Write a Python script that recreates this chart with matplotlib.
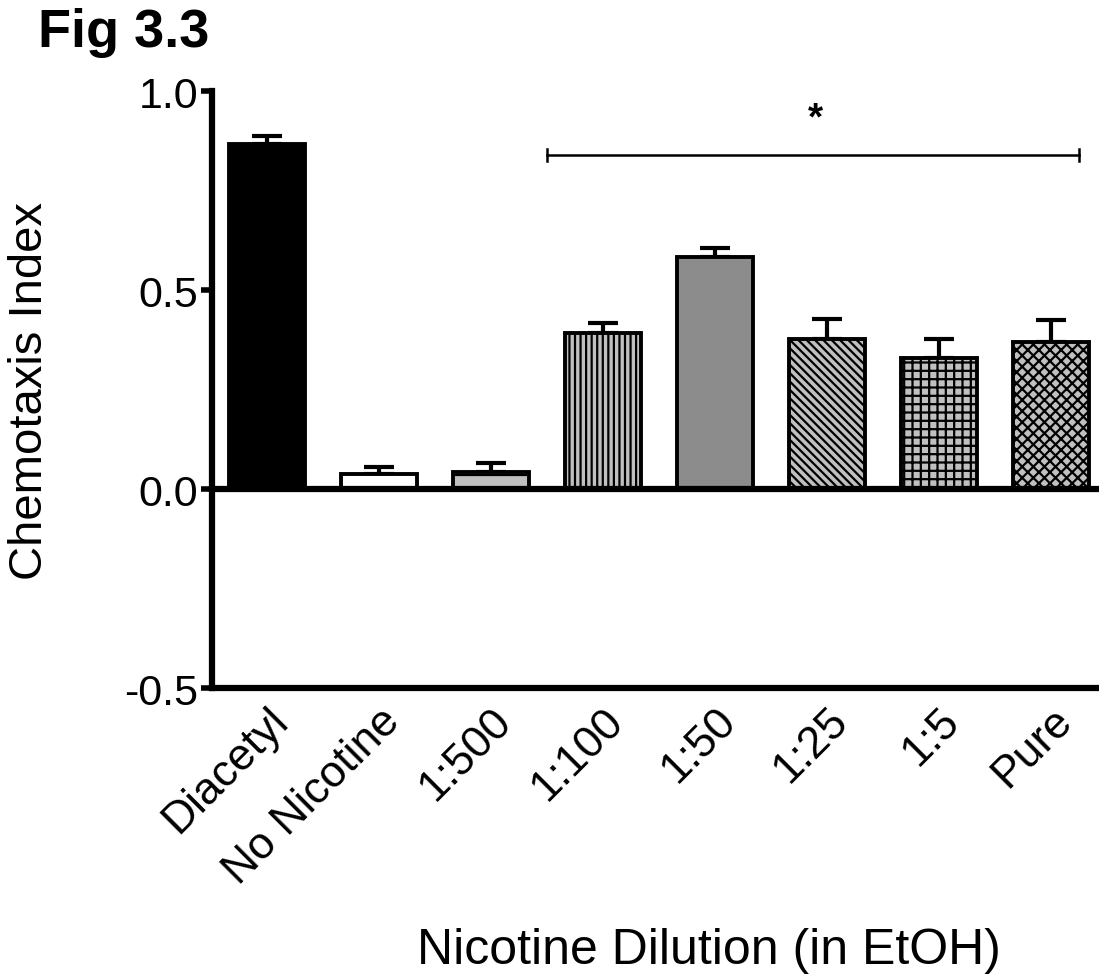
import matplotlib
matplotlib.use("Agg")
import matplotlib.pyplot as plt
import numpy as np

plt.rcParams['font.family'] = ['Liberation Sans', 'DejaVu Sans']
plt.rcParams['hatch.linewidth'] = 1.6

# data
labels = ['Diacetyl', 'No Nicotine', '1:500', '1:100', '1:50', '1:25', '1:5', 'Pure']
means = [0.867, 0.038, 0.043, 0.392, 0.583, 0.377, 0.329, 0.369]
sems = [0.020, 0.017, 0.022, 0.025, 0.022, 0.050, 0.048, 0.056]
colors = ['black', 'white', '#c0c0c0', '#c0c0c0', '#8c8c8c', '#c0c0c0', '#c0c0c0', '#c0c0c0']
hatches = ['', '', '-', '|||', '', '\\\\\\\\', '++', 'xxx']

fig = plt.figure(figsize=(10.99, 9.79), dpi=100)
ax = fig.add_axes([0.193, 0.296, 0.807, 0.61])

x = np.arange(len(labels))
for i in range(len(labels)):
    ax.bar(x[i], means[i], width=0.68, color=colors[i], edgecolor='black',
           linewidth=2.8, hatch=hatches[i], zorder=2)
    ax.errorbar(x[i], means[i], yerr=[[0], [sems[i]]], fmt='none', ecolor='black',
                elinewidth=3, capsize=11, capthick=3, zorder=1)

ax.axhline(0, color='black', lw=4.5, zorder=3)

# significance bar
ax.plot([2.5, 7.25], [0.84, 0.84], color='black', lw=1.8)
ax.plot([2.5, 2.5], [0.825, 0.855], color='black', lw=1.8)
ax.plot([7.25, 7.25], [0.825, 0.855], color='black', lw=1.8)
ax.text(4.9, 0.93, '*', ha='center', va='center', fontsize=28, fontweight='bold')

ax.set_xlim(-0.49, 7.43)
ax.set_ylim(-0.5, 1.0)
ax.set_yticks([-0.5, 0.0, 0.5, 1.0])
ax.set_yticklabels(['-0.5', '0.0', '0.5', '1.0'], fontsize=31)
ax.set_xticks(x)
ax.set_xticklabels(labels, rotation=45, ha='right', rotation_mode='anchor', fontsize=32)
ax.tick_params(axis='x', length=0, pad=8)
ax.tick_params(axis='y', length=8, width=4, pad=2)

for s in ['top', 'right']:
    ax.spines[s].set_visible(False)
ax.spines['left'].set_linewidth(4.5)
ax.spines['bottom'].set_linewidth(4.5)

ax.set_ylabel('Chemotaxis Index', fontsize=34)
ax.yaxis.set_label_coords(-0.18, 0.5)
ax.set_xlabel('Nicotine Dilution (in EtOH)', fontsize=36)
ax.xaxis.set_label_coords(0.56, -0.40)
fig.text(0.035, 0.966, 'Fig 3.3', fontsize=39, fontweight='bold', ha='left', va='center')

fig.savefig('out.png', dpi=100)
